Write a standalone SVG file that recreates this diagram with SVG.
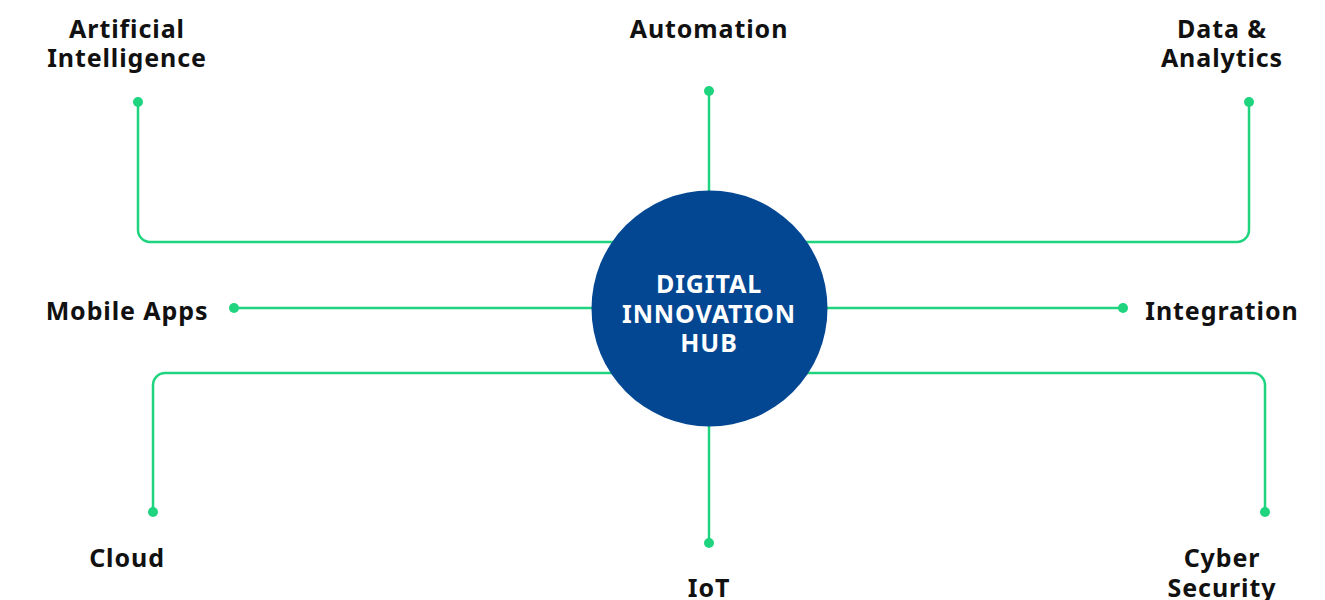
<svg xmlns="http://www.w3.org/2000/svg" width="1325" height="600" viewBox="0 0 1325 600">
<style>
.lbl{font-family:"Noto Sans","Open Sans",sans-serif;font-weight:700;font-size:25px;letter-spacing:0.9px;fill:#111;text-anchor:middle}
.hub{font-family:"Noto Sans","Open Sans",sans-serif;font-weight:700;font-size:25px;letter-spacing:0.9px;fill:#fff;text-anchor:middle}
.ln{fill:none;stroke:#1ed47f;stroke-width:2.5}
.dot{fill:#1ed47f}
</style>
<rect width="1325" height="600" fill="#fff"/>
<g id="connectors">
<path class="ln" d="M138,102 V230 A12,12 0 0 0 150,242 H620"/>
<path class="ln" d="M709,91 V200"/>
<path class="ln" d="M1249,102 V230 A12,12 0 0 1 1237,242 H800"/>
<path class="ln" d="M234,308 H600"/>
<path class="ln" d="M1123,308 H820"/>
<path class="ln" d="M153,512 V385 A12,12 0 0 1 165,373 H620"/>
<path class="ln" d="M709,543 V420"/>
<path class="ln" d="M1265,512 V385 A12,12 0 0 0 1253,373 H800"/>
<circle class="dot" cx="138" cy="102" r="5"/>
<circle class="dot" cx="709" cy="91" r="5"/>
<circle class="dot" cx="1249" cy="102" r="5"/>
<circle class="dot" cx="234" cy="308" r="5"/>
<circle class="dot" cx="1123" cy="308" r="5"/>
<circle class="dot" cx="153" cy="512" r="5"/>
<circle class="dot" cx="709" cy="543" r="5"/>
<circle class="dot" cx="1265" cy="512" r="5"/>
</g>
<g id="hub">
<circle cx="709.5" cy="308.5" r="118" fill="#034793"/>
<text class="hub" x="709" y="293">DIGITAL</text>
<text class="hub" x="709" y="323">INNOVATION</text>
<text class="hub" x="709" y="352">HUB</text>
</g>
<g id="ai"><text class="lbl" x="127" y="38">Artificial</text><text class="lbl" x="127" y="67">Intelligence</text></g>
<g id="automation"><text class="lbl" x="709" y="38">Automation</text></g>
<g id="data"><text class="lbl" x="1222" y="38">Data &amp;</text><text class="lbl" x="1222" y="67">Analytics</text></g>
<g id="mobile"><text class="lbl" x="127" y="320">Mobile Apps</text></g>
<g id="integration"><text class="lbl" x="1222" y="320">Integration</text></g>
<g id="cloud"><text class="lbl" x="127" y="567">Cloud</text></g>
<g id="iot"><text class="lbl" x="709" y="597">IoT</text></g>
<g id="cyber"><text class="lbl" x="1222" y="567">Cyber</text><text class="lbl" x="1222" y="597">Security</text></g>
</svg>
